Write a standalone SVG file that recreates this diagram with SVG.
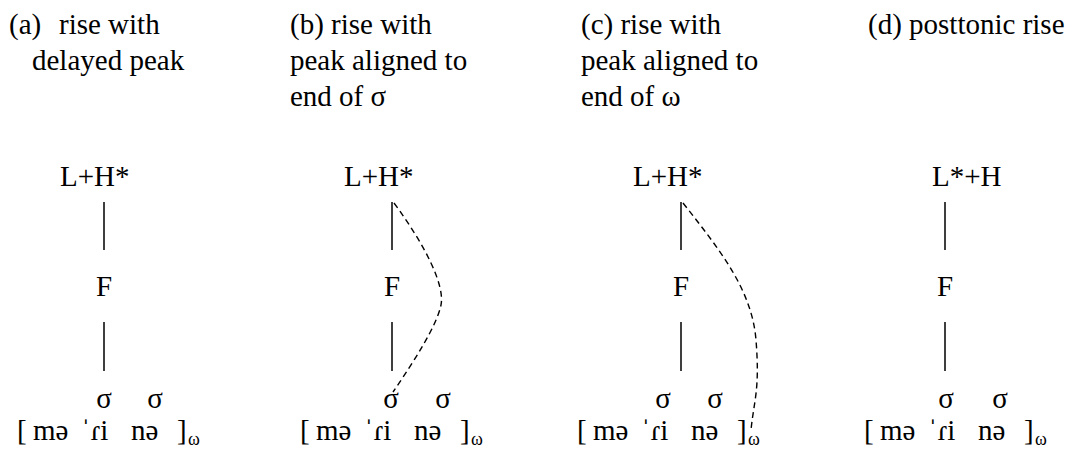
<svg xmlns="http://www.w3.org/2000/svg" width="1074" height="452" viewBox="0 0 1074 452">
<style>
text{font-family:"Liberation Serif","Times New Roman","DejaVu Serif",serif;font-size:29px;fill:#000}
.m{text-anchor:middle}
.sub{font-size:18px}
.ln{stroke:#000;stroke-width:1.5;fill:none}
.da{stroke:#000;stroke-width:1.4;fill:none;stroke-dasharray:6 4}
</style>
<rect width="1074" height="452" fill="#fff"/>
<g id="title-a"><text x="9" y="34">(a)<tspan x="59">rise with</tspan></text><text x="32" y="70">delayed peak</text></g>
<g id="title-b"><text x="290" y="34">(b) rise with</text><text x="290" y="70">peak aligned to</text><text x="290" y="106">end of σ</text></g>
<g id="title-c"><text x="581" y="34">(c) rise with</text><text x="581" y="70">peak aligned to</text><text x="581" y="106">end of ω</text></g>
<g id="title-d"><text x="868" y="34">(d) posttonic rise</text></g>

<g id="tree-a">
<text x="60" y="186">L+H*</text>
<text class="m" x="104" y="296">F</text>
<text class="m" x="104" y="408">σ</text><text class="m" x="155" y="408">σ</text>
<text x="17" y="440">[<tspan x="33">mə</tspan><tspan x="81">ˈɾi</tspan><tspan x="131">nə</tspan><tspan x="177">]</tspan><tspan class="sub" x="188" dy="5">ω</tspan></text>
</g>
<g id="tree-b">
<text x="344" y="186">L+H*</text>
<text class="m" x="392" y="296">F</text>
<text class="m" x="391" y="408">σ</text><text class="m" x="443" y="408">σ</text>
<text x="300" y="440">[<tspan x="316">mə</tspan><tspan x="364">ˈɾi</tspan><tspan x="414">nə</tspan><tspan x="460">]</tspan><tspan class="sub" x="471" dy="5">ω</tspan></text>
</g>
<g id="tree-c">
<text x="633" y="186">L+H*</text>
<text class="m" x="681" y="296">F</text>
<text class="m" x="663" y="408">σ</text><text class="m" x="715" y="408">σ</text>
<text x="577" y="440">[<tspan x="593">mə</tspan><tspan x="641">ˈɾi</tspan><tspan x="691">nə</tspan><tspan x="737">]</tspan><tspan class="sub" x="748" dy="5">ω</tspan></text>
</g>
<g id="tree-d">
<text x="932" y="186">L*+H</text>
<text class="m" x="945" y="296">F</text>
<text class="m" x="946" y="408">σ</text><text class="m" x="1000" y="408">σ</text>
<text x="864" y="440">[<tspan x="880">mə</tspan><tspan x="928">ˈɾi</tspan><tspan x="978">nə</tspan><tspan x="1024">]</tspan><tspan class="sub" x="1035" dy="5">ω</tspan></text>
</g>

<g id="connectors">
<path class="ln" d="M104 202V250M104 322V371"/>
<path class="ln" d="M392 202V250M392 322V371"/>
<path class="ln" d="M681 202V250M681 322V371"/>
<path class="ln" d="M945 202V250M945 322V371"/>
<path class="da" d="M394 203C425 245 445 285 441 305S415 360 393 392"/>
<path class="da" d="M683 203C720 250 752 290 756 340S754 400 751 430"/>
</g>
</svg>
